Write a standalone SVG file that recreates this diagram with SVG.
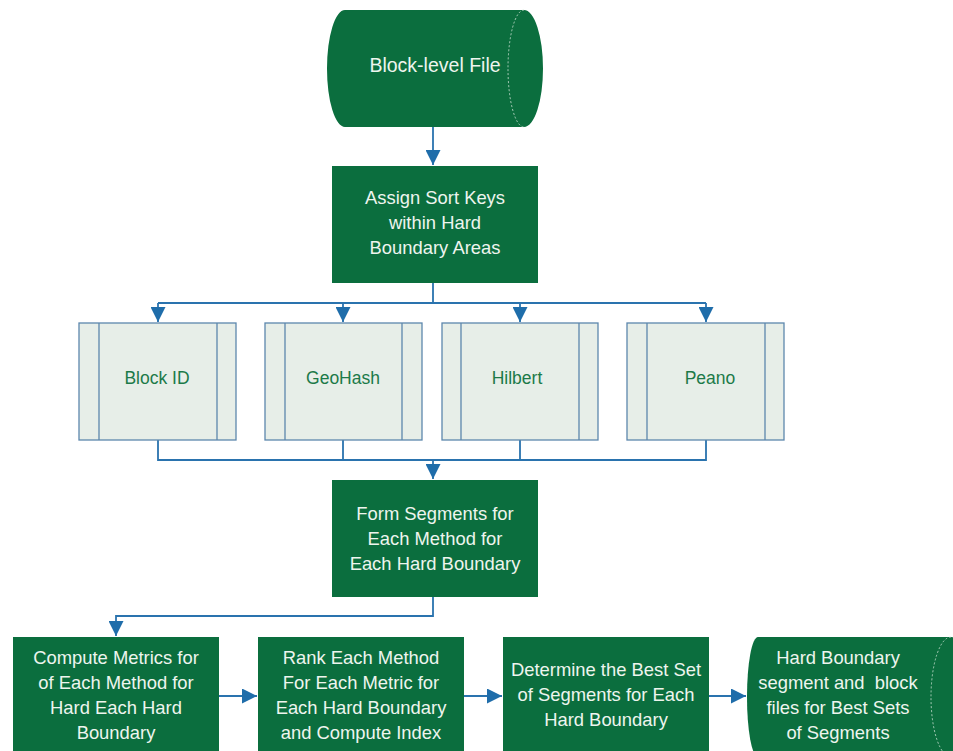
<svg xmlns="http://www.w3.org/2000/svg" width="953" height="751" viewBox="0 0 953 751">
<defs>
<style>
.g{fill:#0B6E3E;}
.t{font-family:"Liberation Sans",Arial,sans-serif;font-size:18.4px;fill:#EEF5EE;text-anchor:middle;}
.lt{font-family:"Liberation Sans",Arial,sans-serif;font-size:17.5px;fill:#1C7A48;text-anchor:middle;}
.pb{fill:#E7EEE8;stroke:#5C87AD;stroke-width:1.3;}
.c{fill:none;stroke:#2A73AE;stroke-width:1.8;}
.inner{fill:none;stroke:#CFE3D5;stroke-width:0.8;stroke-dasharray:2 2;}
</style>
<marker id="ah" viewBox="0 0 14 14" refX="14" refY="7" markerWidth="15" markerHeight="15" markerUnits="userSpaceOnUse" orient="auto">
<path d="M0,0 L14,7 L0,14 Z" fill="#1F6DAA"/>
</marker>
</defs>
<rect width="953" height="751" fill="#FFFFFF"/>

<g id="connectors">
<path class="c" d="M433,127 L433,165" marker-end="url(#ah)"/>
<path class="c" d="M433,283 L433,303 M158,303 L706,303"/>
<path class="c" d="M158,303 L158,322" marker-end="url(#ah)"/>
<path class="c" d="M343,303 L343,322" marker-end="url(#ah)"/>
<path class="c" d="M520,303 L520,322" marker-end="url(#ah)"/>
<path class="c" d="M706,303 L706,322" marker-end="url(#ah)"/>
<path class="c" d="M158,440 L158,460 L706,460 L706,440 M343,440 L343,460 M520,440 L520,460"/>
<path class="c" d="M433,460 L433,479" marker-end="url(#ah)"/>
<path class="c" d="M433,597 L433,616 L116,616 L116,636" marker-end="url(#ah)"/>
<path class="c" d="M219,696 L257,696" marker-end="url(#ah)"/>
<path class="c" d="M464,696 L502,696" marker-end="url(#ah)"/>
<path class="c" d="M709,696 L746,696" marker-end="url(#ah)"/>
</g>

<g id="block-level-file">
<path class="g" d="M345,10 L524,10 A19 58.5 0 0 1 524,127 L345,127 A18 58.5 0 0 1 345,10 Z"/>
<path class="inner" d="M524,10 A16 58.5 0 0 0 524,127"/>
<text class="t" x="435" y="72" style="font-size:19.5px">Block-level File</text>
</g>

<g id="assign-sort-keys">
<rect class="g" x="332" y="166" width="206" height="117"/>
<text class="t" x="435" y="204">Assign Sort Keys</text>
<text class="t" x="435" y="229">within Hard</text>
<text class="t" x="435" y="254">Boundary Areas</text>
</g>

<g id="block-id">
<rect class="pb" x="79" y="323" width="157" height="117"/>
<path class="pb" d="M99,323 L99,440 M217,323 L217,440"/>
<text class="lt" x="157" y="384">Block ID</text>
</g>

<g id="geohash">
<rect class="pb" x="265" y="323" width="157" height="117"/>
<path class="pb" d="M285,323 L285,440 M402,323 L402,440"/>
<text class="lt" x="343" y="384">GeoHash</text>
</g>

<g id="hilbert">
<rect class="pb" x="442" y="323" width="156" height="117"/>
<path class="pb" d="M461,323 L461,440 M579,323 L579,440"/>
<text class="lt" x="517" y="384">Hilbert</text>
</g>

<g id="peano">
<rect class="pb" x="627" y="323" width="157" height="117"/>
<path class="pb" d="M647,323 L647,440 M765,323 L765,440"/>
<text class="lt" x="710" y="384">Peano</text>
</g>

<g id="form-segments">
<rect class="g" x="332" y="480" width="206" height="117"/>
<text class="t" x="435" y="520">Form Segments for</text>
<text class="t" x="435" y="545">Each Method for</text>
<text class="t" x="435" y="570">Each Hard Boundary</text>
</g>

<g id="compute-metrics">
<rect class="g" x="13" y="637" width="206" height="120"/>
<text class="t" x="116" y="664">Compute Metrics for</text>
<text class="t" x="116" y="689">of Each Method for</text>
<text class="t" x="116" y="714">Hard Each Hard</text>
<text class="t" x="116" y="739">Boundary</text>
</g>

<g id="rank-each-method">
<rect class="g" x="258" y="637" width="206" height="120"/>
<text class="t" x="361" y="664">Rank Each Method</text>
<text class="t" x="361" y="689">For Each Metric for</text>
<text class="t" x="361" y="714">Each Hard Boundary</text>
<text class="t" x="361" y="739">and Compute Index</text>
</g>

<g id="determine-best-set">
<rect class="g" x="503" y="637" width="206" height="120"/>
<text class="t" x="606" y="676">Determine the Best Set</text>
<text class="t" x="606" y="701">of Segments for Each</text>
<text class="t" x="606" y="726">Hard Boundary</text>
</g>

<g id="output-files">
<path class="g" d="M758,637 L951,637 A20 60 0 0 1 951,757 L758,757 A11 60 0 0 1 758,637 Z"/>
<path class="inner" d="M951,637 A20 60 0 0 0 951,757"/>
<text class="t" x="838" y="664">Hard Boundary</text>
<text class="t" x="838" y="689" xml:space="preserve">segment and  block</text>
<text class="t" x="838" y="714">files for Best Sets</text>
<text class="t" x="838" y="739">of Segments</text>
</g>
</svg>
